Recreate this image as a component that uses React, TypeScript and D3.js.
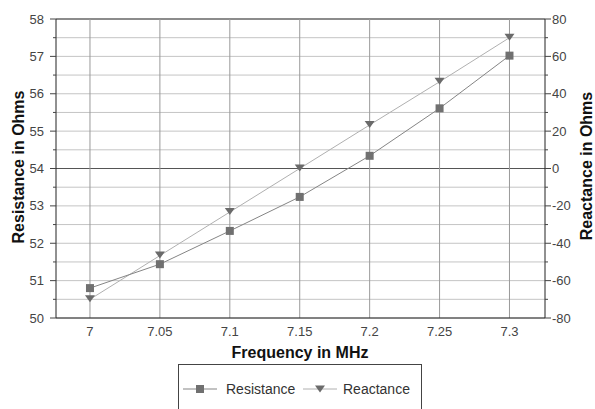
import React from "react";
import * as d3 from "d3";

const frequencies = [7, 7.05, 7.1, 7.15, 7.2, 7.25, 7.3];
const resistance = [50.8, 51.44, 52.33, 53.24, 54.34, 55.61, 57.02];
const reactance = [-70, -46.6, -23.3, 0, 23.3, 46.4, 70];
const xTicks = [7, 7.05, 7.1, 7.15, 7.2, 7.25, 7.3];
const leftTicks = [50, 51, 52, 53, 54, 55, 56, 57, 58];
const rightTicks = [-80, -60, -40, -20, 0, 20, 40, 60, 80];

const W = 595;
const H = 409;
const L = 56;
const R = 545;
const T = 19;
const B = 318;
const FONT = "'Liberation Sans', Arial, sans-serif";

export default function App() {
  const x = d3.scaleLinear().domain([6.9757, 7.3254]).range([L, R]);
  const yL = d3.scaleLinear().domain([50, 58]).range([B, T]);
  const yR = d3.scaleLinear().domain([-80, 80]).range([B, T]);

  const minorL = d3.range(50, 58.01, 0.5);
  const lineRes = d3
    .line<number>()
    .x((_, i) => x(frequencies[i]))
    .y((d) => yL(d))(resistance);
  const lineReac = d3
    .line<number>()
    .x((_, i) => x(frequencies[i]))
    .y((d) => yR(d))(reactance);

  const tri = (cx: number, cy: number, s = 5) =>
    `M${cx - s},${cy - 3.5}L${cx + s},${cy - 3.5}L${cx},${cy + 3.5}Z`;

  return (
    <svg
      width={W}
      height={H}
      style={{ position: "absolute", left: 0, top: 0, background: "#fff" }}
      fontFamily={FONT}
    >
      <rect x={0} y={0} width={W} height={H} fill="#fff" />
      {/* horizontal gridlines */}
      {minorL.map((v) => (
        <line
          key={"h" + v}
          x1={L}
          x2={R}
          y1={yL(v)}
          y2={yL(v)}
          stroke={v === 54 ? "#555" : v === 58 ? "#666" : "#c4c4c4"}
          strokeWidth={v === 58 ? 1.5 : 1}
        />
      ))}
      {/* vertical gridlines */}
      {xTicks.map((v) => (
        <line
          key={"v" + v}
          x1={x(v)}
          x2={x(v)}
          y1={T}
          y2={B}
          stroke="#9a9a9a"
          strokeWidth={1}
        />
      ))}
      {/* axes */}
      <line x1={L} x2={L} y1={T} y2={B} stroke="#222" />
      <line x1={R} x2={R} y1={T} y2={B} stroke="#222" />
      <line x1={L} x2={R} y1={B} y2={B} stroke="#222" />
      {/* left ticks */}
      {minorL.map((v) => (
        <line
          key={"lt" + v}
          x1={Number.isInteger(v) ? L - 6 : L - 3}
          x2={L}
          y1={yL(v)}
          y2={yL(v)}
          stroke="#444"
        />
      ))}
      {minorL.map((v) => (
        <line
          key={"rt" + v}
          x1={R}
          x2={Number.isInteger(v) ? R + 6 : R + 3}
          y1={yL(v)}
          y2={yL(v)}
          stroke="#444"
        />
      ))}
      {leftTicks.map((v) => (
        <text
          key={"ll" + v}
          x={L - 12}
          y={yL(v)}
          dy="0.35em"
          textAnchor="end"
          fontSize={13}
          fill="#444"
        >
          {v}
        </text>
      ))}
      {rightTicks.map((v) => (
        <text
          key={"rl" + v}
          x={R + 7}
          y={yR(v)}
          dy="0.35em"
          textAnchor="start"
          fontSize={13}
          fill="#444"
        >
          {v}
        </text>
      ))}
      {xTicks.map((v) => (
        <text
          key={"xl" + v}
          x={x(v)}
          y={336}
          textAnchor="middle"
          fontSize={13}
          fill="#444"
        >
          {v}
        </text>
      ))}
      {/* titles */}
      <text
        transform={`translate(24,167) rotate(-90)`}
        textAnchor="middle"
        fontSize={16}
        fontWeight="bold"
        fill="#111"
      >
        Resistance in Ohms
      </text>
      <text
        transform={`translate(592,166) rotate(-90)`}
        textAnchor="middle"
        fontSize={16}
        fontWeight="bold"
        fill="#111"
      >
        Reactance in Ohms
      </text>
      <text
        x={300}
        y={358}
        textAnchor="middle"
        fontSize={16}
        fontWeight="bold"
        fill="#111"
      >
        Frequency in MHz
      </text>
      {/* series */}
      <path d={lineReac || ""} fill="none" stroke="#b0b0b0" strokeWidth={1} />
      <path d={lineRes || ""} fill="none" stroke="#858585" strokeWidth={1} />
      {resistance.map((v, i) => (
        <rect
          key={"sq" + i}
          x={x(frequencies[i]) - 4}
          y={yL(v) - 4}
          width={8}
          height={8}
          fill="#707070"
        />
      ))}
      {reactance.map((v, i) => (
        <path key={"tr" + i} d={tri(x(frequencies[i]), yR(v) - 0.5)} fill="#6a6a6a" />
      ))}
      {/* legend */}
      <rect x={178.5} y={364.5} width={243} height={60} fill="#fff" stroke="#444" />
      <line x1={183} x2={217} y1={389} y2={389} stroke="#858585" />
      <rect x={196} y={385} width={8} height={8} fill="#707070" />
      <text x={226} y={394} fontSize={14} fill="#333">
        Resistance
      </text>
      <line x1={303} x2={337} y1={389} y2={389} stroke="#b0b0b0" />
      <path d={tri(320, 389)} fill="#6a6a6a" />
      <text x={343} y={394} fontSize={14} fill="#333">
        Reactance
      </text>
    </svg>
  );
}
